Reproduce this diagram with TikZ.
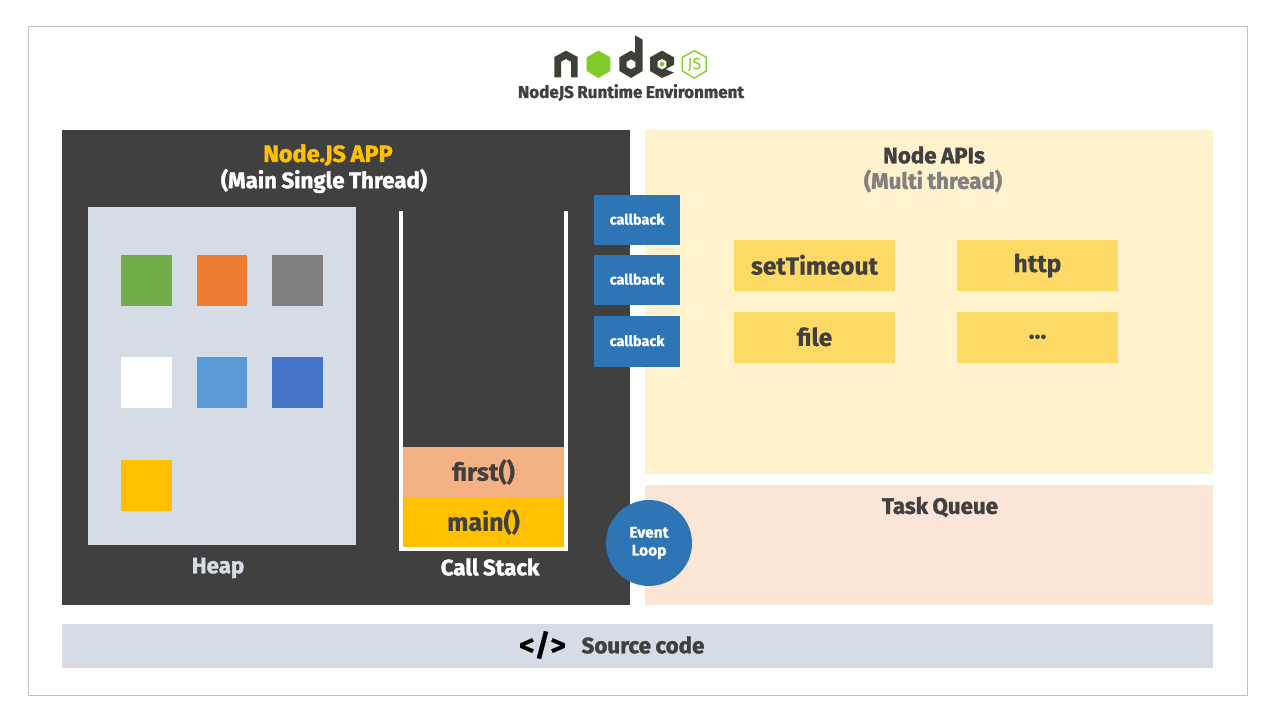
\documentclass[tikz,border=0pt]{standalone}
\usepackage{fontspec}
\setmainfont{Fira Sans}
\newfontfamily\hv[FakeBold=1.6,WordSpace=0.85]{Fira Sans Bold}
\newfontfamily\md[FakeBold=0.6]{Fira Sans Bold}
\definecolor{dk}{HTML}{404040}
\definecolor{gold}{HTML}{FFC000}
\definecolor{paleY}{HTML}{FFF2CC}
\definecolor{paleO}{HTML}{FBE5D6}
\definecolor{paleB}{HTML}{D6DCE5}
\definecolor{cb}{HTML}{2E75B6}
\definecolor{api}{HTML}{FFD966}
\definecolor{peach}{HTML}{F4B183}
\definecolor{logoDk}{HTML}{3F3F37}
\definecolor{logoGr}{HTML}{7FCB2A}
\definecolor{sqGreen}{HTML}{70AD47}
\definecolor{sqOrange}{HTML}{ED7D31}
\definecolor{sqGray}{HTML}{7F7F7F}
\definecolor{sqSky}{HTML}{5B9BD5}
\definecolor{sqBlue}{HTML}{4472C4}
\newcommand{\up}[1]{\raisebox{1.8pt}{#1}}
\tikzset{
  x=1pt,y=-1pt,
  panel/.style={draw=none,inner sep=0pt,outer sep=0pt,anchor=north west},
  lbl/.style={inner sep=0pt,text=dk},
  sq/.style={panel,minimum width=51,minimum height=51},
  cbbox/.style={draw=none,fill=cb,inner sep=0pt,minimum width=86,minimum height=50.5,text=white,font=\md\fontsize{14.5}{16}\selectfont},
  apibox/.style={draw=none,fill=api,inner sep=0pt,minimum width=161,minimum height=51,text=dk,font=\md\fontsize{24.5}{26}\selectfont},
  stackbox/.style={draw=none,inner sep=0pt,minimum width=161,minimum height=50,text=dk,font=\md\fontsize{25}{26}\selectfont},
  title/.style={lbl,font=\hv\fontsize{22.3}{24}\selectfont},
}
\begin{document}
\begin{tikzpicture}
\useasboundingbox (0,0) rectangle (1280,720);
\fill[white] (0,0) rectangle (1280,720);
\node[panel,draw=black!25,line width=1pt,minimum width=1219,minimum height=669] (frame) at (28.5,26) {};

% logo
\begin{scope}[shift={(500,20)},scale=1/3]
\fill[logoDk] (163,111)--(198,92)--(233,111)--(233,172)--(213,172)--(213,125)--(198,117)--(183,125)--(183,172)--(163,172)--cycle;
\fill[logoGr] (260,112)--(295,92)--(331,112)--(331,153)--(295,174)--(260,153)--cycle;
\fill[logoDk,even odd rule] (405,46)--(428,59)--(428,153)--(393,174)--(358,153)--(358,112)--(393,92)--(405,99)--cycle
  (393,118)--(406,125)--(406,141)--(393,148)--(380,141)--(380,125)--cycle;
\fill[logoDk] (450,112)--(486,92)--(522,112)--(522,134)--(497,148)--(522,158)--(486,174)--(450,153)--cycle;
\fill[white] (486,117)--(499,124)--(499,141)--(486,148)--(473,141)--(473,124)--cycle;
\fill[logoGr] (486,132) circle (7);
\draw[logoGr,line width=1.3pt] (583,92)--(619,112)--(619,153)--(583,174)--(547,153)--(547,112)--cycle;
\end{scope}
\node[inner sep=0pt,text=logoGr,font=\fontsize{16}{16}\selectfont] (js) at (694.5,65) {JS};
\node[lbl,font=\hv\fontsize{17}{18}\selectfont] (rt) at (631,92.5) {NodeJS Runtime Environment};

% panels
\node[panel,fill=dk,minimum width=568,minimum height=475] (app) at (62,130) {};
\node[panel,fill=paleY,minimum width=568,minimum height=344] (apis) at (645,130) {};
\node[panel,fill=paleO,minimum width=568,minimum height=120] (tq) at (645,485) {};
\node[panel,fill=paleB,minimum width=1151,minimum height=44] (src) at (62,624) {};
\node[panel,fill=paleB,minimum width=268,minimum height=338] (heap) at (88,207) {};

\node[title,text=gold,font=\hv\fontsize{23.5}{24}\selectfont] (appT) at (328,155) {Node.JS APP};
\node[title,text=white] (appS) at (324,181) {(Main Single Thread)};
\node[title] (apiT) at (934,155) {Node APIs};
\node[title,text=gray] (apiS) at (933,181) {(Multi thread)};
\node[title] (tqT) at (940,507) {Task Queue};
\node[title,text=paleB] (heapT) at (218,568) {Heap};
\node[title,text=white] (csT) at (490,567) {Call Stack};

% heap squares
\node[sq,fill=sqGreen] (s1) at (121,255) {};
\node[sq,fill=sqOrange,minimum width=50] (s2) at (197,255) {};
\node[sq,fill=sqGray] (s3) at (272,255) {};
\node[sq,fill=white] (s4) at (121,357) {};
\node[sq,fill=sqSky,minimum width=50] (s5) at (197,357) {};
\node[sq,fill=sqBlue] (s6) at (272,357) {};
\node[sq,fill=gold] (s7) at (121,460) {};

% call stack
\node[stackbox,fill=peach] (first) at (483.5,472) {\up{first()}};
\node[stackbox,fill=gold] (main) at (483.5,522) {\up{main()}};
\draw[white,line width=3.7pt] (401,211)--(401,549)--(566,549)--(566,211);

% callbacks
\node[cbbox] (c1) at (637,220) {\up{callback}};
\node[cbbox] (c2) at (637,280) {\up{callback}};
\node[cbbox] (c3) at (637,341.5) {\up{callback}};

% apis
\node[apibox] (a1) at (814.5,265.5) {\up{setTimeout}};
\node[apibox] (a2) at (1037.5,265.5) {http};
\node[apibox] (a3) at (814.5,337.5) {\up{file}};
\node[apibox] (a4) at (1037.5,337.5) {\up{...}};

% event loop
\node[circle,fill=cb,minimum size=86,inner sep=0pt,text=white,align=center,font=\md\fontsize{15.5}{18}\selectfont] (ev) at (649,543) {Event\\Loop};

% source
\node[inner sep=0pt,font=\md\fontsize{30}{30}\selectfont,text=black] (ic) at (542.5,645) {</>};
\node[title] (srcT) at (643,645) {Source code};
\end{tikzpicture}
\end{document}
